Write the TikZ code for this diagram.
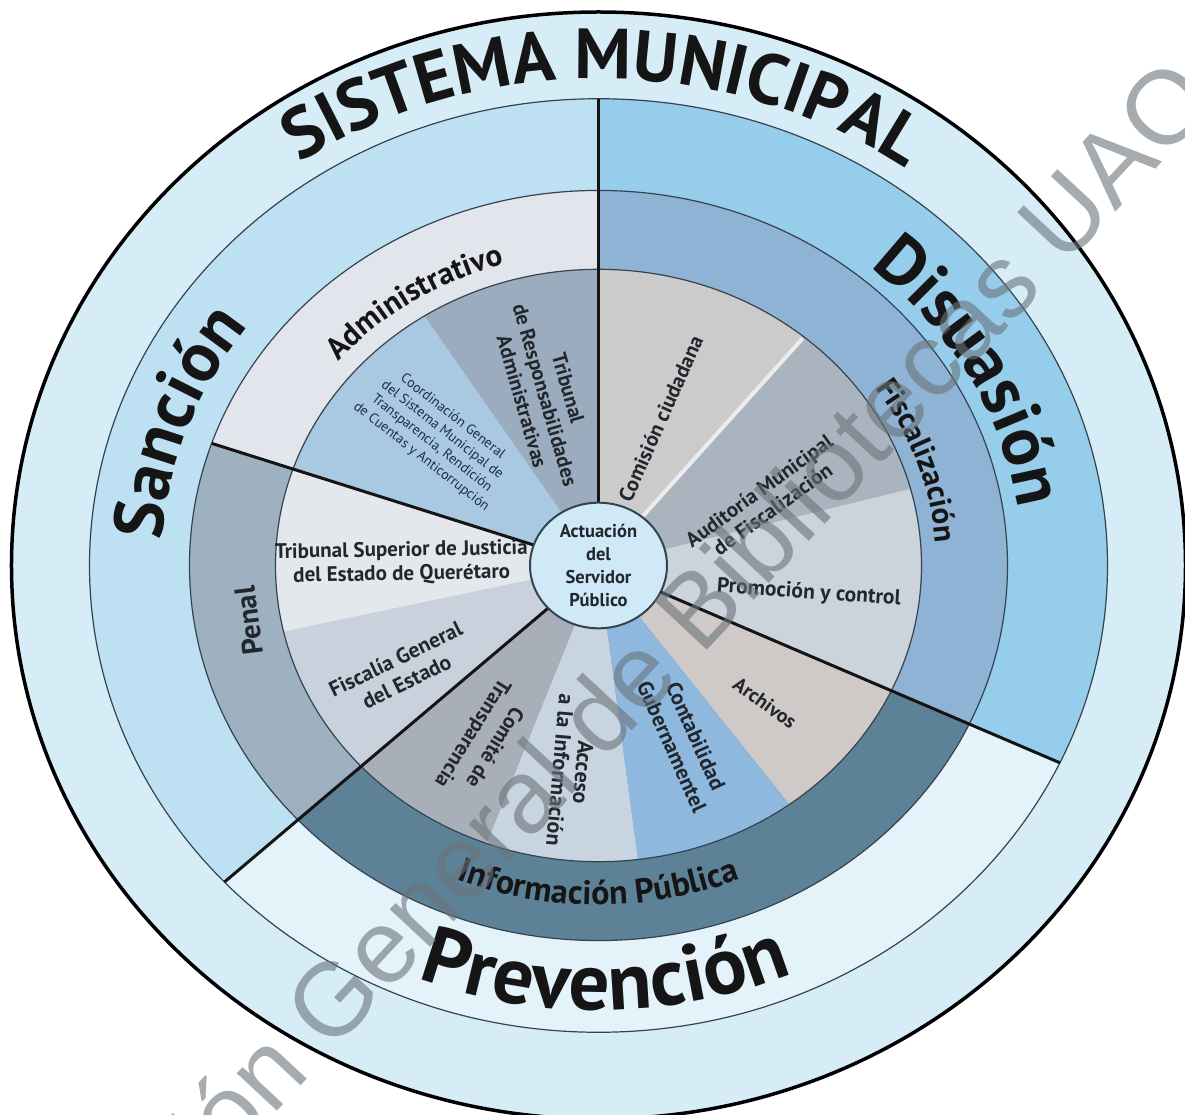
\documentclass[tikz,border=0pt]{standalone}
\usepackage{fontspec}
\setmainfont{PT Sans}
\newfontfamily\wmfont{Liberation Sans}
\usetikzlibrary{decorations.text}
\definecolor{outerring}{HTML}{D6EDF8}
\definecolor{sancion}{HTML}{BDE0F3}
\definecolor{disuasion}{HTML}{96CDEB}
\definecolor{prevencion}{HTML}{E4F2FA}
\definecolor{adminband}{HTML}{E2E6EC}
\definecolor{penalband}{HTML}{9EB1C1}
\definecolor{infoband}{HTML}{5D8196}
\definecolor{fiscband}{HTML}{8FB3D5}
\definecolor{tresp}{HTML}{9AACBD}
\definecolor{coordc}{HTML}{A9C8E2}
\definecolor{tsup}{HTML}{E4E8ED}
\definecolor{fiscalia}{HTML}{C9D2DC}
\definecolor{comite}{HTML}{A8AFB8}
\definecolor{acceso}{HTML}{C8D4E0}
\definecolor{contab}{HTML}{8EB8DE}
\definecolor{archivos}{HTML}{CFCAC7}
\definecolor{promocion}{HTML}{CBD3DC}
\definecolor{auditoria}{HTML}{A9B4BF}
\definecolor{comision}{HTML}{CBCBCB}
\definecolor{centerc}{HTML}{CFE9F7}
\definecolor{ringdark}{HTML}{34434E}
\definecolor{txt}{HTML}{151515}
\definecolor{innertxt}{HTML}{22272E}
\definecolor{coordtxt}{HTML}{1F2B4D}
\definecolor{wm}{HTML}{6A737A}
\newcommand\mysector[4]{\fill[#1] (0,0) -- (#2:#4) arc[start angle=#2,end angle=#3,radius=#4] -- cycle;}
\begin{document}
\begin{tikzpicture}[x=1pt,y=0.917pt,
  ringline/.style={draw=ringdark,line width=1.2pt},
  divider/.style={draw=black!92,line width=3pt},
  inner/.style={text=innertxt,align=center,inner sep=0pt},
  curvtext/.style={decorate,decoration={text along path,text align=center,text={#1}}}]
\path[use as bounding box,fill=white] (-598.5pt,-548.5pt) rectangle (586.5pt,565.5pt);
% outer disk and main sectors
\fill[outerring] (0,0) ellipse[x radius=587pt,y radius=553.5pt];
\mysector{sancion}{90}{222.7}{509}
\mysector{prevencion}{222.7}{335}{509}
\mysector{disuasion}{-25}{90}{509}
\mysector{adminband}{90}{161}{409}
\mysector{penalband}{161}{222.7}{409}
\mysector{infoband}{222.7}{335}{409}
\mysector{fiscband}{-25}{90}{409}
% inner sectors
\mysector{comision}{50.5}{90}{323}
\mysector{auditoria}{15}{50.5}{323}
\mysector{promocion}{-25}{15}{323}
\mysector{archivos}{-53.8}{-25}{323}
\mysector{contab}{-83}{-53.8}{323}
\mysector{acceso}{-110.3}{-83}{323}
\mysector{comite}{-137.3}{-110.3}{323}
\mysector{fiscalia}{192.9}{222.7}{323}
\mysector{tsup}{161}{192.9}{323}
\mysector{coordc}{122.6}{161}{323}
\mysector{tresp}{90}{122.6}{323}
\draw[white!85!gray,line width=4pt] (50.5:70) -- (50.5:321);
% ring lines
\draw[ringline] (0,0) circle[radius=509];
\draw[ringline] (0,0) circle[radius=409];
\draw[ringline] (0,0) circle[radius=323];
\draw[line width=3.5pt] (0,0) ellipse[x radius=587pt,y radius=553.5pt];
% dividers
\coordinate (d1a) at (90:68.5);   \coordinate (d1b) at (90:509);
\coordinate (d2a) at (-25:68.5);  \coordinate (d2b) at (-25:509);
\coordinate (d3a) at (222.7:68.5);\coordinate (d3b) at (222.7:509);
\coordinate (d4a) at (161:68.5);  \coordinate (d4b) at (161:409);
\draw[divider] (d1a) -- (d1b);
\draw[divider] (d2a) -- (d2b);
\draw[divider] (d3a) -- (d3b);
\draw[divider] (d4a) -- (d4b);
% centre
\draw[fill=centerc,draw=ringdark,line width=2pt] (0,0) circle[radius=68.5];
\node[inner,font={\fontsize{18.5}{23}\selectfont\bfseries}] (actuacion) at (0,0) {Actuación\\del\\Servidor\\Público};
% curved titles
\path[curvtext={|\color{txt}\fontsize{71}{71}\selectfont\bfseries|SISTEMA MUNICIPAL}] (163.5:531) arc[start angle=163.5,end angle=15.3,radius=531];
\path[curvtext={|\color{txt}\fontsize{70}{70}\selectfont\bfseries|Sanción}] (205.5:437) arc[start angle=205.5,end angle=115.5,radius=437];
\path[curvtext={|\color{txt}\fontsize{70}{70}\selectfont\bfseries|Disuasión}] (73.5:424) arc[start angle=73.5,end angle=-16.5,radius=424];
\path[curvtext={|\color{txt}\fontsize{81}{81}\selectfont\bfseries|Prevención}] (-134.1:485) arc[start angle=-134.1,end angle=-44.1,radius=485];
\path[curvtext={|\color{txt}\fontsize{31}{31}\selectfont\bfseries|Administrativo}] (163.5:342) arc[start angle=163.5,end angle=83.5,radius=342];
\path[curvtext={|\color{txt}\fontsize{31}{31}\selectfont\bfseries|Fiscalización}] (59:338) arc[start angle=59,end angle=-21,radius=338];
\path[curvtext={|\color{txt}\fontsize{34}{34}\selectfont\bfseries|Información Pública}] (-135:370) arc[start angle=-135,end angle=-45,radius=370];
\node[inner,rotate=97,font={\fontsize{29}{30}\selectfont\bfseries}] (penal) at (189.8:354.7) {Penal};
% inner labels
\node[inner,rotate=-74,font={\fontsize{20.5}{24}\selectfont\bfseries}] (tribresp) at (106:193.5) {Tribunal\\de Responsabilidades\\Administrativas};
\node[inner,rotate=-38,text=coordtxt,font={\fontsize{14}{17}\selectfont}] (coordgen) at (139:214) {Coordinación General\\del Sistema Municipal de\\Transparencia, Rendición\\de Cuentas y Anticorrupción};
\node[inner,rotate=1,font={\fontsize{21}{24}\selectfont\bfseries}] (tribsup) at (179.2:197) {Tribunal Superior de Justicia\\del Estado de Querétaro};
\node[inner,rotate=26,font={\fontsize{21.5}{25}\selectfont\bfseries}] (fiscalia) at (210:228) {Fiscalía General\\del Estado};
\node[inner,rotate=-122,font={\fontsize{21}{26}\selectfont\bfseries}] (comite) at (-121.3:222.6) {Comité de\\Transparencia};
\node[inner,rotate=-95,font={\fontsize{22}{23}\selectfont\bfseries}] (acceso) at (-96.8:226) {Acceso\\a la Información};
\node[inner,rotate=-66,font={\fontsize{21.5}{26}\selectfont\bfseries}] (contab) at (-66:210) {Contabilidad\\Gubernamentel};
\node[inner,rotate=-36,font={\fontsize{20}{22}\selectfont\bfseries}] (archivos) at (-42:224) {Archivos};
\node[inner,rotate=-4,font={\fontsize{21.5}{24}\selectfont\bfseries}] (promocion) at (-8.1:212.6) {Promoción y control};
\node[inner,rotate=36,font={\fontsize{21}{23}\selectfont\bfseries}] (auditoria) at (23.2:182) {Auditoría Municipal\\de Fiscalización};
\node[inner,rotate=66,font={\fontsize{21}{24}\selectfont\bfseries}] (comision) at (68.8:172) {Comisión ciudadana};
% watermark
\node[rotate=47,text=wm,opacity=0.6,font={\wmfont\fontsize{104}{104}\selectfont}] (watermark) at (-2pt,-162pt) {Dirección General de Bibliotecas UAQ};
\end{tikzpicture}
\end{document}
